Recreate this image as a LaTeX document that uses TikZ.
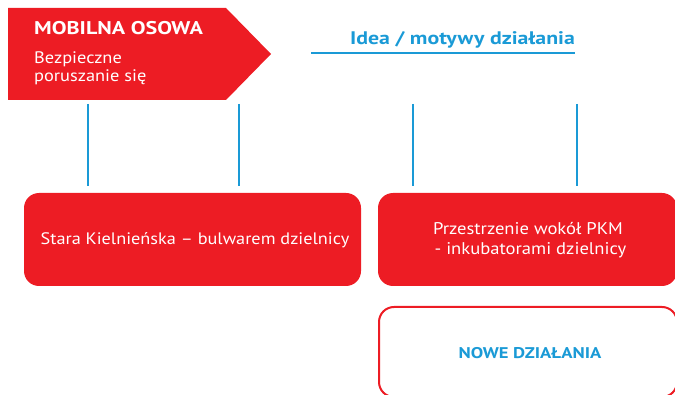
\documentclass[tikz,border=0pt]{standalone}
\usepackage{fontspec}
\setmainfont{PT Sans}[FakeStretch=1.1]
\newfontfamily\boldfam{PT Sans}[FakeStretch=1.2]
\definecolor{mred}{HTML}{ED1C24}
\definecolor{mblue}{HTML}{1A9AD6}
\begin{document}
\begin{tikzpicture}[x=1pt,y=-1pt,
  redbox/.style={fill=mred,rounded corners=15pt},
  outbox/.style={draw=mred,line width=2pt,fill=white,rounded corners=15pt},
  vline/.style={draw=mblue,line width=1.2pt},
  wtext/.style={text=white,inner sep=0pt,anchor=base},
  btitle/.style={text=mblue,inner sep=0pt,anchor=base}]
\useasboundingbox (0,0) rectangle (675,395);
\clip (0,0) rectangle (675,395);
% header arrow
\fill[mred] (8,8) -- (226,8) -- (271,54) -- (226,100) -- (8,100) -- cycle;
\node[text=white,font=\boldfam\bfseries\fontsize{18.4}{21}\selectfont,anchor=base west,inner sep=0pt] (t1) at (34,35) {MOBILNA OSOWA};
\node[text=white,font=\fontsize{16.7}{19}\selectfont,anchor=base west,inner sep=0pt] (t2) at (34,63.5) {Bezpieczne};
\node[text=white,font=\fontsize{16.7}{19}\selectfont,anchor=base west,inner sep=0pt] (t3) at (34,82) {poruszanie się};
% idea title
\node[btitle,font=\boldfam\bfseries\fontsize{18.2}{21}\selectfont] (idea) at (462.5,45) {Idea / motywy działania};
\coordinate (ul1) at (311,53);
\coordinate (ul2) at (575,53);
\draw[vline] (ul1) -- (ul2);
% vertical lines
\foreach \x/\n in {88/a,239/b,413/c,577/d}{
  \coordinate (\n1) at (\x,104);
  \coordinate (\n2) at (\x,186);
  \draw[vline] (\n1) -- (\n2);
}
% boxes
\path[redbox] (24,193) rectangle (361,286);
\node[wtext,font=\fontsize{16.6}{19}\selectfont] (b1) at (195,245) {Stara Kielnieńska – bulwarem dzielnicy};
\path[redbox] (378,193) rectangle (677,286);
\node[wtext,font=\fontsize{16.9}{19}\selectfont] (b2a) at (528,234.5) {Przestrzenie wokół PKM};
\node[wtext,font=\fontsize{16.9}{19}\selectfont] (b2b) at (530.5,254.5) {- inkubatorami dzielnicy};
\path[outbox] (379,307) rectangle (677,397);
\node[btitle,font=\boldfam\bfseries\fontsize{15.5}{18}\selectfont] (b3) at (530,359) {NOWE DZIAŁANIA};
\end{tikzpicture}
\end{document}
